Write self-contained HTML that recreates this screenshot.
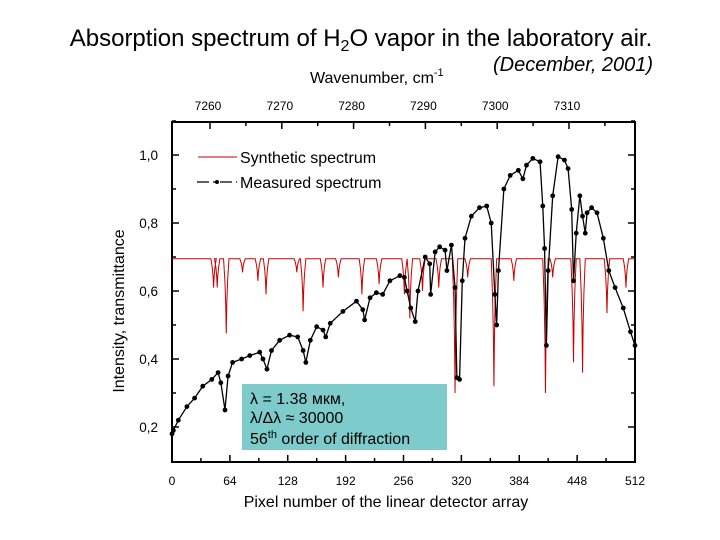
<!DOCTYPE html>
<html><head><meta charset="utf-8"><style>
body{margin:0;background:#fff;width:720px;height:540px;overflow:hidden;font-family:"Liberation Sans",Arial,sans-serif}
svg{display:block}
</style></head><body>
<svg id="c" width="720" height="540" xmlns="http://www.w3.org/2000/svg" font-family="Liberation Sans, Arial, sans-serif">
<text x="361" y="46" font-size="24" text-anchor="middle">Absorption spectrum of H<tspan font-size="16" dy="5">2</tspan><tspan dy="-5">O vapor in the laboratory air.</tspan></text>
<text x="310" y="83" font-size="16">Wavenumber, cm<tspan font-size="11" dy="-7">-1</tspan></text>
<text x="493" y="71" font-size="20" font-style="italic">(December, 2001)</text>
<text transform="translate(124,311) rotate(-90)" font-size="16" text-anchor="middle">Intensity, transmittance</text>
<text x="386" y="507" font-size="16" text-anchor="middle">Pixel number of the linear detector array</text>
<rect x="172" y="122" width="463" height="340" fill="none" stroke="#000" stroke-width="2"/>
<g id="axes"></g>
<g id="series"></g>
<g>
<line x1="198" y1="157" x2="237" y2="157" stroke="#c00" stroke-width="1"/>
<text x="240" y="163" font-size="16">Synthetic spectrum</text>
<line x1="197" y1="182" x2="237" y2="182" stroke="#000" stroke-width="1.3" stroke-dasharray="12,4,3,4"/>
<circle cx="217" cy="182" r="2" fill="#000"/>
<text x="240" y="188" font-size="16">Measured spectrum</text>
</g>
<g>
<rect x="242" y="384" width="205" height="66" fill="#7ecbcb"/>
<text x="250" y="404" font-size="16">λ = 1.38 мкм,</text>
<text x="250" y="423" font-size="16">λ/Δλ ≈ 30000</text>
<text x="250" y="444" font-size="16">56<tspan font-size="11" dy="-6">th</tspan><tspan dy="6"> order of diffraction</tspan></text>
</g>
</svg>
<script>
const xTicks=[0,64,128,192,256,320,384,448,512];
const yTicks=[0.2,0.4,0.6,0.8,1.0];
const yTickLabels=["0,2","0,4","0,6","0,8","1,0"];
const topTicks=[7260,7270,7280,7290,7300,7310];
const synthBase=0.695;
const synthDipPix=[46,50,60,78,95,104,138,145,167,184,210,229,257,263,277,295,313,327,356,378,413,421,444,454,481,502];
const synthDipVal=[0.61,0.61,0.475,0.655,0.63,0.59,0.655,0.54,0.61,0.64,0.59,0.62,0.59,0.52,0.6,0.61,0.30,0.64,0.32,0.63,0.30,0.64,0.39,0.36,0.535,0.61];
const measPix=[0,1.5,7,16.5,25,34,44,51,54,58.6,62,67,77,86,97,100.6,105,110,119,130,139,145,148,153,160,167,170,175,189,204,211,213,219,226,233,241,252,257,260,264,269,272,280,285,286,291,296,302,304,309,313,315,318,321,324,331,340,348,353,357,359,361,367,374,383,388,392,399,407,410,412,414,416,421,427,434,438,442,444,447,451,454,457,459,464,470,477,483,490,499,507,512];
const measVal=[0.18,0.19,0.22,0.26,0.285,0.32,0.34,0.36,0.33,0.25,0.35,0.39,0.40,0.41,0.42,0.40,0.37,0.425,0.455,0.47,0.465,0.425,0.39,0.455,0.495,0.485,0.465,0.505,0.54,0.57,0.545,0.515,0.58,0.595,0.59,0.63,0.645,0.64,0.6,0.55,0.51,0.6,0.70,0.68,0.59,0.715,0.73,0.72,0.66,0.735,0.61,0.345,0.34,0.63,0.755,0.82,0.845,0.85,0.80,0.59,0.50,0.66,0.90,0.94,0.955,0.93,0.97,0.99,0.98,0.85,0.725,0.44,0.66,0.88,0.995,0.985,0.96,0.84,0.63,0.77,0.88,0.82,0.77,0.83,0.845,0.83,0.755,0.66,0.61,0.55,0.48,0.44];
const X=p=>172+p*463/512;
const Y=v=>461-(v-0.1)*340;
const W=w=>210+(w-7260)*7.18;
const NS="http://www.w3.org/2000/svg";
const ax=document.getElementById('axes'),se=document.getElementById('series');
function mk(tag,at,par){const e=document.createElementNS(NS,tag);for(const k in at)e.setAttribute(k,at[k]);par.appendChild(e);return e;}
xTicks.forEach((t,i)=>{
  const l=mk('line',{x1:X(t),x2:X(t),y1:462,y2:455,stroke:'#000','stroke-width':1.5},ax);
  
  
  if(i<xTicks.length-1){const m=mk('line',{x1:X(t+32),x2:X(t+32),y1:462,y2:458,stroke:'#000','stroke-width':1.5},ax);
  
  }
  const tx=mk('text',{x:X(t),y:485,'font-size':12,'text-anchor':'middle'},ax);tx.textContent=t;
  
  
});
for(let v=0.2;v<1.1;v+=0.1){
  const maj=Math.round(v*10)%2===0,len=maj?7:4;
  const a=mk('line',{x1:172,x2:172+len,y1:Y(v),y2:Y(v),stroke:'#000','stroke-width':1.5},ax);
  
  
  const b=mk('line',{x1:635,x2:635-len,y1:Y(v),y2:Y(v),stroke:'#000','stroke-width':1.5},ax);
  
  
}
yTicks.forEach((t,i)=>{
  const tx=mk('text',{x:158,y:Y(t)+5,'font-size':13.5,'text-anchor':'end'},ax);tx.textContent=yTickLabels[i];
  
  
});
topTicks.forEach(t=>{
  const l=mk('line',{x1:W(t),x2:W(t),y1:122,y2:129,stroke:'#000','stroke-width':1.5},ax);
  
  
  const m=mk('line',{x1:W(t+5),x2:W(t+5),y1:122,y2:126,stroke:'#000','stroke-width':1.5},ax);
  
  
  const tx=mk('text',{x:W(t)-2,y:110,'font-size':12,'text-anchor':'middle'},ax);tx.textContent=t;
  
  
});
// synthetic
let d='M'+X(0)+','+Y(synthBase);
synthDipPix.forEach((p,i)=>{const v=synthDipVal[i],dd=synthBase-v;
  d+=' L'+X(p-3)+','+Y(synthBase)+' L'+X(p-1.5)+','+Y(synthBase-dd*0.3)+' L'+X(p-0.6)+','+Y(synthBase-dd*0.6)+' L'+X(p)+','+Y(v)+' L'+X(p+0.6)+','+Y(synthBase-dd*0.6)+' L'+X(p+1.5)+','+Y(synthBase-dd*0.3)+' L'+X(p+3)+','+Y(synthBase);});
d+=' L'+X(512)+','+Y(synthBase);
const sp=mk('path',{d:d,fill:'none',stroke:'#c00','stroke-width':1},se);


const mp=mk('polyline',{points:measPix.map((p,i)=>X(p)+','+Y(measVal[i])).join(' '),fill:'none',stroke:'#000','stroke-width':1.3},se);


measPix.forEach((p,i)=>{
  const c=mk('circle',{cx:X(p),cy:Y(measVal[i]),r:2.4,fill:'#000'},se);
  
  
});
</script>
</body></html>
